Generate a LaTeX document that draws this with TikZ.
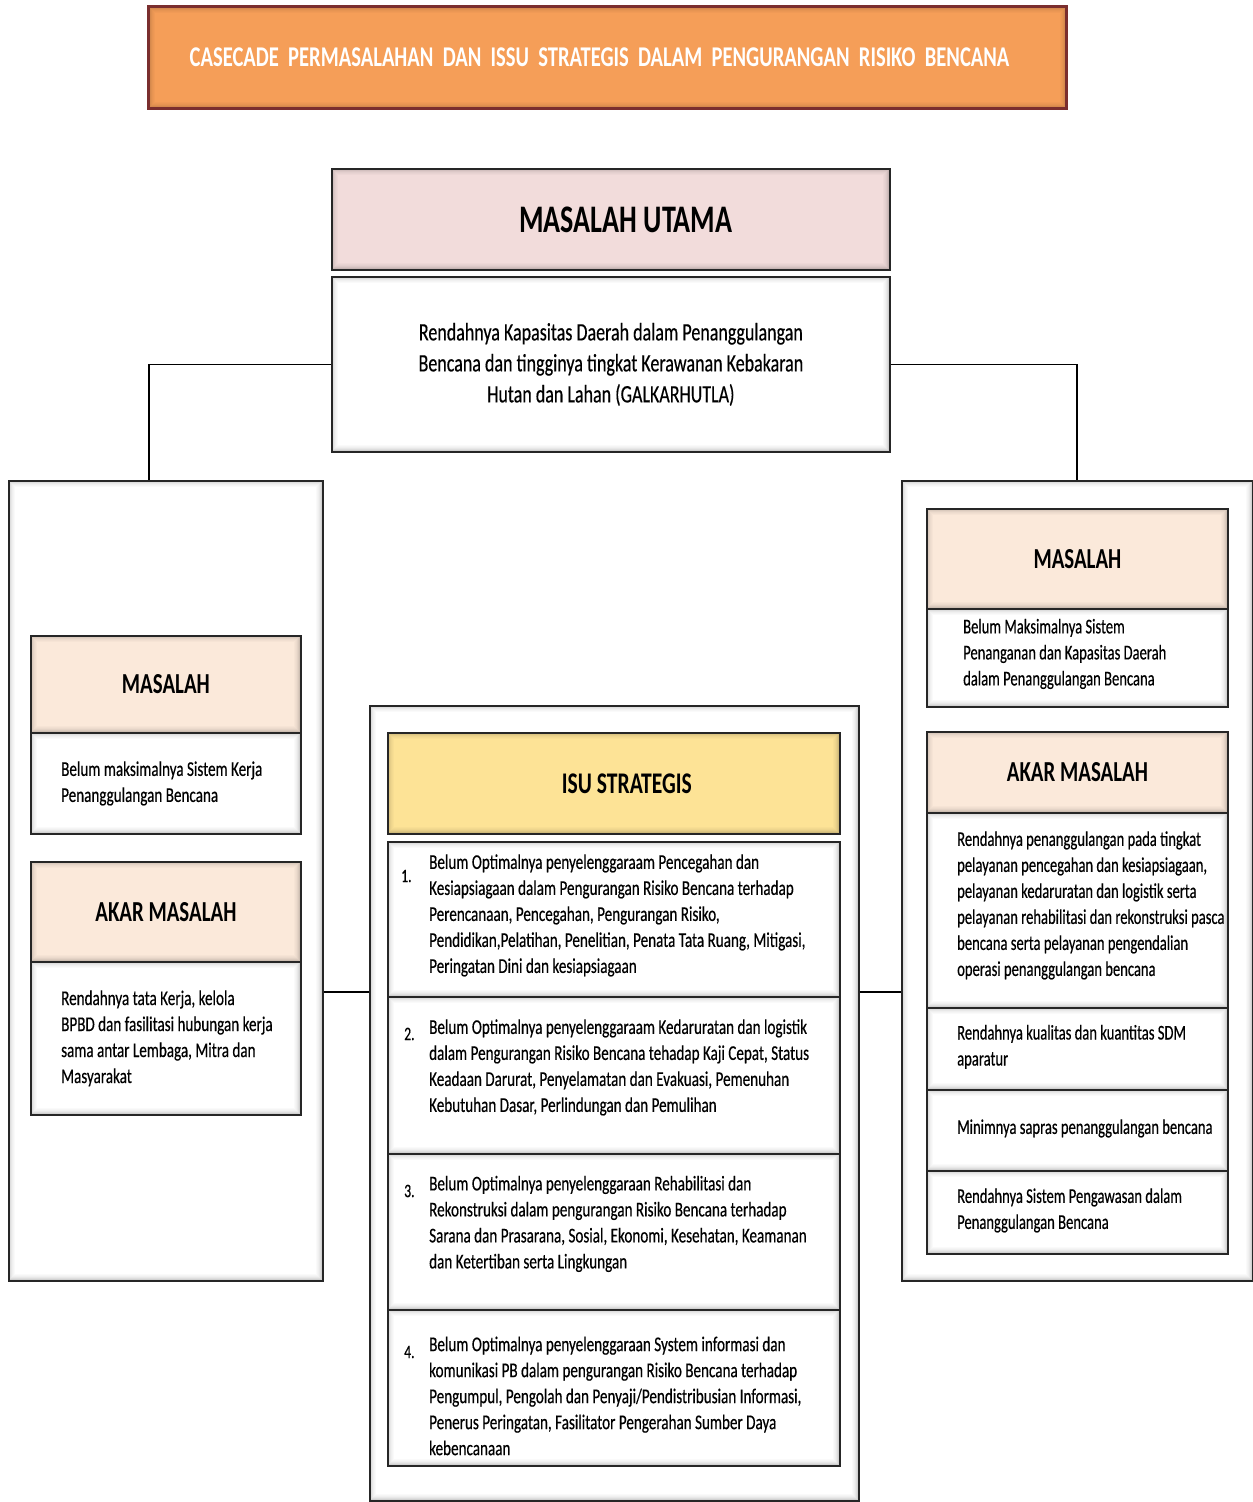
\documentclass[tikz,border=0pt]{standalone}
\usepackage{fontspec}
\setmainfont{Carlito}
\newfontfamily\cnd{Carlito}[FakeStretch=0.72]
\newfontfamily\cndb{Carlito}[FakeStretch=0.72,FakeBold=0.4]
\newfontfamily\cndr{Carlito}[FakeStretch=0.695,FakeBold=0.4]
\definecolor{titlefill}{HTML}{F59E58}
\definecolor{titledraw}{HTML}{7A2E2E}
\definecolor{mufill}{HTML}{F2DCDB}
\definecolor{masfill}{HTML}{FBE9DA}
\definecolor{isufill}{HTML}{FDE396}
\begin{document}
\begin{tikzpicture}[x=1pt,y=-1pt,
  inshadow/.style={path picture={
    \foreach \k/\o in {1/0.18,2/0.13,3/0.09,4/0.06,5/0.04,6/0.02}{
      \draw[black,opacity=\o,line width=1pt]
        ([shift={(\k pt,-\k pt)}]path picture bounding box.north west) rectangle
        ([shift={(-\k pt,\k pt)}]path picture bounding box.south east);}}},
  box/.style={draw=black!85, line width=1.8pt, fill=white, anchor=north west,
    inner sep=0pt, inshadow},
  cont/.style={draw=black!85, line width=1.5pt, fill=white, anchor=north west,
    inner sep=0pt, inshadow},
  head/.style={font=\cnd\bfseries\fontsize{29}{34}\selectfont},
  body/.style={anchor=west, align=left, inner sep=0pt,
    font=\cndb\fontsize{21}{26}\selectfont},
  rbody/.style={body, font=\cndr\fontsize{21}{26}\selectfont},
  num/.style={anchor=west, inner sep=0pt, font=\cndb\fontsize{19}{22}\selectfont},
  link/.style={draw=black, line width=1.5pt}]

\useasboundingbox (0,0) rectangle (1253,1502);
\fill[white] (0,0) rectangle (1253,1502);

% title
\node[box, fill=titlefill, draw=titledraw, line width=3pt,
  minimum width=918pt, minimum height=102pt, text=white,
  font=\cnd\bfseries\fontsize{28.6}{32}\selectfont] (title) at (147,5)
  {CASECADE\ \ PERMASALAHAN\ \ DAN\ \ ISSU\ \ STRATEGIS\ \ DALAM\ \ PENGURANGAN\ \ RISIKO\ \ BENCANA\hspace*{16pt}};

% main problem
\node[box, fill=mufill, minimum width=558pt, minimum height=101pt,
  font=\cnd\bfseries\fontsize{39}{46}\selectfont] (muh) at (331,168) {\hspace*{30pt}MASALAH UTAMA};
\node[box, minimum width=558pt, minimum height=175pt, align=center,
  font=\cndb\fontsize{25}{31}\selectfont] (mub) at (331,276)
  {Rendahnya Kapasitas Daerah dalam Penanggulangan\\
   Bencana dan tingginya tingkat Kerawanan Kebakaran\\
   Hutan dan Lahan (GALKARHUTLA)};

% containers
\node[cont, minimum width=314pt, minimum height=800pt] (lc) at (8,480) {};
\node[cont, minimum width=489pt, minimum height=795pt] (cc) at (369,705) {};
\node[cont, minimum width=351pt, minimum height=800pt] (rc) at (901,480) {};

% left column
\node[box, fill=masfill, minimum width=270pt, minimum height=97pt, head] (lmh) at (30,635) {MASALAH};
\node[box, minimum width=270pt, minimum height=101pt] (lmb) at (30,732) {};
\node[body] (lmt) at ([xshift=31pt]lmb.west)
  {Belum maksimalnya Sistem Kerja\\Penanggulangan Bencana};
\node[box, fill=masfill, minimum width=270pt, minimum height=100pt, head] (lah) at (30,861) {AKAR MASALAH};
\node[box, minimum width=270pt, minimum height=153pt] (lab) at (30,961) {};
\node[body] (lat) at ([xshift=31pt]lab.west)
  {Rendahnya tata Kerja, kelola\\BPBD dan fasilitasi hubungan kerja\\sama antar Lembaga, Mitra dan\\Masyarakat};

% centre column
\node[box, fill=isufill, minimum width=452pt, minimum height=101pt,
  font=\cnd\bfseries\fontsize{30}{36}\selectfont] (isu) at (387,732) {\hspace*{26pt}ISU STRATEGIS};
\node[box, minimum width=452pt, minimum height=155pt] (i1) at (387,841) {};
\node[box, minimum width=452pt, minimum height=157pt] (i2) at (387,996) {};
\node[box, minimum width=452pt, minimum height=156pt] (i3) at (387,1153) {};
\node[box, minimum width=452pt, minimum height=156pt] (i4) at (387,1309) {};
\node[body] (t1) at ([xshift=42pt,yshift=4pt]i1.west)
  {Belum Optimalnya penyelenggaraam Pencegahan dan\\
   Kesiapsiagaan dalam Pengurangan Risiko Bencana terhadap\\
   Perencanaan, Pencegahan, Pengurangan Risiko,\\
   Pendidikan,Pelatihan, Penelitian, Penata Tata Ruang, Mitigasi,\\
   Peringatan Dini dan kesiapsiagaan};
\node[body] (t2) at ([xshift=42pt,yshift=8pt]i2.west)
  {Belum Optimalnya penyelenggaraam Kedaruratan dan logistik\\
   dalam Pengurangan Risiko Bencana tehadap Kaji Cepat, Status\\
   Keadaan Darurat, Penyelamatan dan Evakuasi, Pemenuhan\\
   Kebutuhan Dasar, Perlindungan dan Pemulihan};
\node[body] (t3) at ([xshift=42pt,yshift=8pt]i3.west)
  {Belum Optimalnya penyelenggaraan Rehabilitasi dan\\
   Rekonstruksi dalam pengurangan Risiko Bencana terhadap\\
   Sarana dan Prasarana, Sosial, Ekonomi, Kesehatan, Keamanan\\
   dan Ketertiban serta Lingkungan};
\node[body] (t4) at ([xshift=42pt,yshift=-8pt]i4.west)
  {Belum Optimalnya penyelenggaraan System informasi dan\\
   komunikasi PB dalam pengurangan Risiko Bencana terhadap\\
   Pengumpul, Pengolah dan Penyaji/Pendistribusian Informasi,\\
   Penerus Peringatan, Fasilitator Pengerahan Sumber Daya\\
   kebencanaan};
\node[num] (n1) at (401,876) {1.};
\node[num] (n2) at (404,1034) {2.};
\node[num] (n3) at (404,1191) {3.};
\node[num] (n4) at (404,1352) {4.};

% right column
\node[box, fill=masfill, minimum width=301pt, minimum height=100pt, head] (rmh) at (926,508) {MASALAH};
\node[box, minimum width=301pt, minimum height=98pt] (rmb) at (926,608) {};
\node[rbody] (rmt) at ([xshift=37pt,yshift=4pt]rmb.west)
  {Belum Maksimalnya Sistem\\Penanganan dan Kapasitas Daerah\\dalam Penanggulangan Bencana};
\node[box, fill=masfill, minimum width=301pt, minimum height=81pt, head] (rah) at (926,731) {AKAR MASALAH};
\node[box, minimum width=301pt, minimum height=195pt] (r1) at (926,812) {};
\node[box, minimum width=301pt, minimum height=82pt] (r2) at (926,1007) {};
\node[box, minimum width=301pt, minimum height=81pt] (r3) at (926,1089) {};
\node[box, minimum width=301pt, minimum height=83pt] (r4) at (926,1170) {};
\node[rbody] (rt1) at ([xshift=31pt,yshift=5pt]r1.west)
  {Rendahnya penanggulangan pada tingkat\\
   pelayanan pencegahan dan kesiapsiagaan,\\
   pelayanan kedaruratan dan logistik serta\\
   pelayanan rehabilitasi dan rekonstruksi pasca\\
   bencana serta pelayanan pengendalian\\
   operasi penanggulangan bencana};
\node[rbody] (rt2) at ([xshift=31pt,yshift=2pt]r2.west)
  {Rendahnya kualitas dan kuantitas SDM\\aparatur};
\node[rbody] (rt3) at ([xshift=31pt,yshift=2pt]r3.west)
  {Minimnya sapras penanggulangan bencana};
\node[rbody] (rt4) at ([xshift=31pt,yshift=2pt]r4.west)
  {Rendahnya Sistem Pengawasan dalam\\Penanggulangan Bencana};

% connectors
\coordinate (lx) at (149,0);
\coordinate (rx) at (1077,0);
\coordinate (my) at (0,992);
\draw[link] (mub.west) -| (lx |- lc.north);
\draw[link] (mub.east) -| (rx |- rc.north);
\draw[link] (lc.east |- my) -- (cc.west |- my);
\draw[link] (cc.east |- my) -- (rc.west |- my);
\end{tikzpicture}
\end{document}
